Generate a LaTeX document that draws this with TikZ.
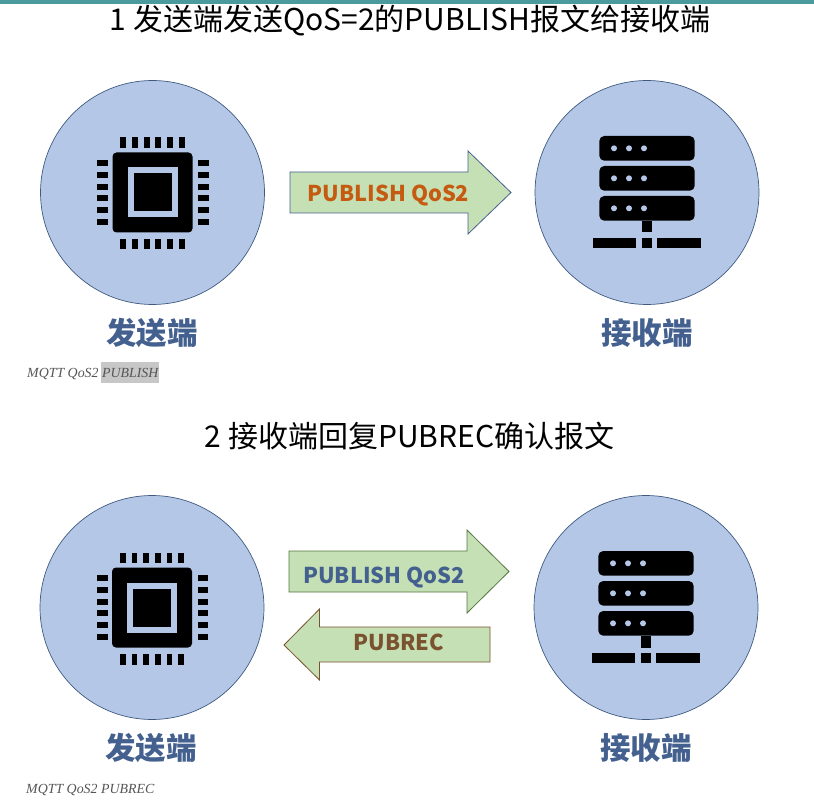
\documentclass[tikz,border=0pt]{standalone}
\usepackage{fontspec}
\newfontfamily\cjk{Noto Sans CJK SC}
\newfontfamily\capfont{Liberation Serif}
\usetikzlibrary{calc}
\definecolor{disc}{HTML}{B4C7E7}
\definecolor{discline}{HTML}{3F5A80}
\definecolor{labelblue}{HTML}{44608F}
\definecolor{arrowfill}{HTML}{C5E0B4}
\definecolor{orangetxt}{HTML}{C55A11}
\definecolor{browntxt}{HTML}{7A5230}
\definecolor{greenline}{HTML}{55763F}
\definecolor{teal}{HTML}{4A9A9E}
\definecolor{captxt}{HTML}{555555}
\tikzset{
  discnode/.style={circle,draw=discline,line width=0.7pt,fill=disc,minimum size=224pt,inner sep=0pt},
  titletext/.style={font=\cjk\fontsize{30}{34}\selectfont,text=black,inner sep=0pt,anchor=center},
  rolelabel/.style={font=\cjk\bfseries\fontsize{30.5}{34}\selectfont,text=labelblue,inner sep=0pt,anchor=center},
  arrowtext/.style={font=\cjk\bfseries\fontsize{21.8}{26}\selectfont,inner sep=0pt,anchor=center},
  captext/.style={font=\capfont\itshape\fontsize{13.9}{16}\selectfont,text=captxt,inner sep=0pt,anchor=west},
  arrowshape/.style={fill=arrowfill,line width=0.8pt},
  pics/chip/.style={code={
    \fill[black,rounded corners=4pt] (-40,-40) rectangle (40,40);
    \fill[disc] (-25,-25) rectangle (25,25);
    \fill[black] (-19,-19) rectangle (19,19);
    \foreach \k in {-2.5,-1.5,-0.5,0.5,1.5,2.5}{
      \fill[black] ({\k*11.7-2.9},-55) rectangle ({\k*11.7+2.9},-44.5);
      \fill[black] ({\k*11.7-2.9},46.5) rectangle ({\k*11.7+2.9},57);
      \fill[black] (-55.5,{\k*11.7-2.9}) rectangle (-44.5,{\k*11.7+2.9});
      \fill[black] (45.5,{\k*11.7-2.9}) rectangle (56,{\k*11.7+2.9});
    }
  }},
  pics/server/.style={code={
    \foreach \r in {-56.5,-26.5,3.5}{
      \fill[black,rounded corners=5pt] (-47.7,\r) rectangle (47.7,{\r+24.7});
      \foreach \d in {-33,-18,-3}{\fill[disc] (\d,{\r+12.3}) circle (3pt);}
    }
    \fill[black] (-4.7,28.2) rectangle (4.7,40);
    \fill[black] (-54,45.5) rectangle (-10.7,55.5);
    \fill[black] (-4.7,45.5) rectangle (4.7,55.5);
    \fill[black] (10.3,45.5) rectangle (54,55.5);
  }}
}
\begin{document}
\begin{tikzpicture}[x=1pt,y=-1pt]
\useasboundingbox (0,0) rectangle (814,810);
\fill[teal] (0,0) rectangle (814,4);
% panel 1
\node[titletext] (t1) at (410,21) {1 发送端发送QoS=2的PUBLISH报文给接收端};
\node[discnode] (c1) at (152.5,192.5) {};
\node[discnode] (s1) at (647,192.5) {};
\pic at (c1.center) {chip};
\pic at (s1.center) {server};
\node[rolelabel] (l1) at (152,333) {发送端};
\node[rolelabel] (r1) at (647,333) {接收端};
\draw[arrowshape,draw=labelblue] (290,172) -- (468,172) -- (468,151) -- (511,192.5) -- (468,234) -- (468,213) -- (290,213) -- cycle;
\node[arrowtext,text=orangetxt] (a1) at (388.5,196) {PUBLISH QoS2};
\fill[black!22] (101,362) rectangle (159,383);
\node[captext] (cap1) at (27,374) {MQTT QoS2 PUBLISH};
% panel 2
\node[titletext] (t2) at (409.5,436) {2 接收端回复PUBREC确认报文};
\node[discnode] (c2) at (152,607.5) {};
\node[discnode] (s2) at (646,607.5) {};
\pic at (c2.center) {chip};
\pic at (s2.center) {server};
\node[rolelabel] (l2) at (151,748) {发送端};
\node[rolelabel] (r2) at (646,748) {接收端};
\draw[arrowshape,draw=greenline] (289,551) -- (467,551) -- (467,530) -- (509,571.5) -- (467,613) -- (467,592) -- (289,592) -- cycle;
\node[arrowtext,text=labelblue] (a2) at (384,577.5) {PUBLISH QoS2};
\draw[arrowshape,draw=browntxt] (490,627) -- (319.5,627) -- (319.5,609) -- (284,645) -- (319.5,680) -- (319.5,662) -- (490,662) -- cycle;
\node[arrowtext,text=browntxt] (a3) at (399,642.5) {PUBREC};
\node[captext] (cap2) at (26,790) {MQTT QoS2 PUBREC};
\end{tikzpicture}
\end{document}
